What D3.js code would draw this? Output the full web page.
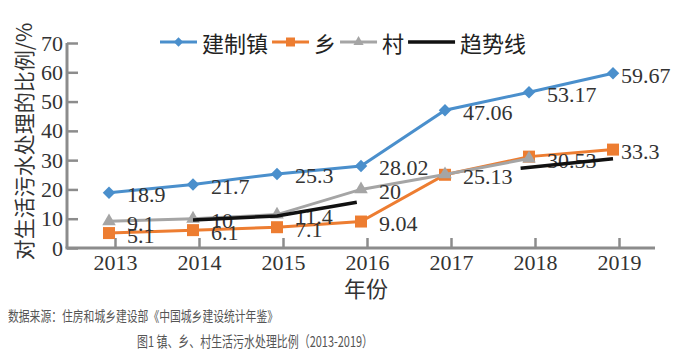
<!DOCTYPE html>
<html>
<head>
<meta charset="utf-8">
<script src="https://cdn.jsdelivr.net/npm/d3@7.9.0/dist/d3.min.js"></script>
<style>
  body { margin: 0; background: #fff; }
  svg { display: block; }
</style>
</head>
<body>
<div id="chart"></div>
<script>
const years = [2013, 2014, 2015, 2016, 2017, 2018, 2019];
const zhenValues = [18.9, 21.7, 25.3, 28.02, 47.06, 53.17, 59.67];
const xiangValues = [5.1, 6.1, 7.1, 9.04, 25.0, 31.2, 33.6];
const cunValues = [9.1, 10, 11.4, 20, 25.13, 30.53, null];
const zhenLabels = ['18.9', '21.7', '25.3', '28.02', '47.06', '53.17', '59.67'];
const xiangLabels = ['5.1', '6.1', '7.1', '9.04', null, null, '33.3'];
const cunLabels = ['9.1', '10', '11.4', '20', '25.13', '30.53', null];
// trend segments: [year, value]
const trendA = [[2014, 9.6], [2015, 10.9], [2015.95, 15.6]];
const trendB = [[2017.9, 27.2], [2019, 30.5]];
const yTicks = [0, 10, 20, 30, 40, 50, 60, 70];

const width = 690;
const height = 361;
const serif = '"Liberation Serif", "Times New Roman", serif';
const cjk = '"Noto Sans CJK SC", "Noto Sans", sans-serif';
const axisColor = '#8c8c8c';

const svg = d3.select('#chart').append('svg')
  .attr('width', width)
  .attr('height', height);

const area = { left: 67, right: 655, top: 43, bottom: 248 };

// markers sit a few px left of their tick
const x = d3.scaleLinear().domain([2013, 2019]).range([109, 613]);
const xTick = d3.scaleLinear().domain([2013, 2019]).range([115, 619]);
const y = d3.scaleLinear().domain([0, 70]).range([area.bottom, area.top]);

// axes
const yAxis = d3.axisLeft(y).tickValues(yTicks).tickSize(-11).tickPadding(4);
const gy = svg.append('g').attr('transform', `translate(${area.left},0)`).call(yAxis);
gy.select('.domain').remove();
gy.selectAll('line').attr('stroke', axisColor).attr('stroke-width', 2.5);
gy.selectAll('text').attr('font-family', serif).attr('font-size', 22).attr('fill', '#333');

const xAxis = d3.axisBottom(xTick).tickValues(years).tickFormat(d3.format('d')).tickSize(-10).tickPadding(6);
const gx = svg.append('g').attr('transform', `translate(0,${area.bottom})`).call(xAxis);
gx.select('.domain').remove();
gx.selectAll('line').attr('stroke', axisColor).attr('stroke-width', 2.5);
gx.selectAll('text').attr('font-family', serif).attr('font-size', 22).attr('fill', '#333');

svg.append('line')
  .attr('x1', area.left).attr('x2', area.left)
  .attr('y1', area.top).attr('y2', area.bottom)
  .attr('stroke', axisColor).attr('stroke-width', 3);
svg.append('line')
  .attr('x1', area.left - 1.5).attr('x2', area.right)
  .attr('y1', area.bottom).attr('y2', area.bottom)
  .attr('stroke', axisColor).attr('stroke-width', 3);

// axis titles
svg.append('text')
  .attr('transform', `translate(23,${(20 + 263) / 2}) rotate(-90)`)
  .attr('text-anchor', 'middle')
  .attr('dominant-baseline', 'central')
  .attr('font-family', cjk)
  .attr('font-size', 21)
  .attr('fill', '#333')
  .text('对生活污水处理的比例/%');

svg.append('text')
  .attr('x', 366).attr('y', 287)
  .attr('text-anchor', 'middle')
  .attr('dominant-baseline', 'central')
  .attr('font-family', cjk)
  .attr('font-size', 22)
  .attr('fill', '#333')
  .text('年份');

// series
const series = [
  { name: '建制镇', values: zhenValues, labels: zhenLabels, color: '#4a8fcc', shape: 'diamond' },
  { name: '乡', values: xiangValues, labels: xiangLabels, color: '#ed7d31', shape: 'square' },
  { name: '村', values: cunValues, labels: cunLabels, color: '#a5a5a5', shape: 'triangle' },
];

function symbolPath(shape, scale = 1) {
  if (shape === 'diamond') return d3.symbol(d3.symbolSquare, 78 * scale * scale)();
  if (shape === 'square') return d3.symbol(d3.symbolSquare, 144 * scale * scale)();
  return d3.symbol(d3.symbolTriangle, 80 * scale * scale)();
}

const line = d3.line()
  .defined((d) => d.v != null)
  .x((d) => x(d.year))
  .y((d) => y(d.v));

const lineGroup = svg.append('g');
const labelGroup = svg.append('g');

series.forEach((s) => {
  const pts = years.map((year, i) => ({ year, v: s.values[i], label: s.labels[i], i }));
  const g = lineGroup.append('g');
  g.append('path')
    .datum(pts)
    .attr('d', line)
    .attr('fill', 'none')
    .attr('stroke', s.color)
    .attr('stroke-width', 3);
  g.selectAll('path.marker')
    .data(pts.filter((d) => d.v != null))
    .join('path')
    .attr('class', 'marker')
    .attr('d', symbolPath(s.shape))
    .attr('transform', (d) => `translate(${x(d.year)},${y(d.v)})${s.shape === 'diamond' ? ' rotate(45)' : ''}`)
    .attr('fill', s.color);

  labelGroup.selectAll(null)
    .data(pts.filter((d) => d.label != null))
    .join('text')
    .attr('x', (d) => x(d.year) + (d.i === years.length - 1 ? 8 : 18))
    .attr('y', (d) => y(d.v) + 9.5)
    .attr('font-family', serif)
    .attr('font-size', 22)
    .attr('fill', '#333')
    .text((d) => d.label);
});

// trend lines
const trendLine = d3.line().x((d) => x(d[0])).y((d) => y(d[1]));
[trendA, trendB].forEach((seg) => {
  svg.append('path')
    .attr('d', trendLine(seg))
    .attr('fill', 'none')
    .attr('stroke', '#111')
    .attr('stroke-width', 3.5);
});

// legend
const legendItems = [
  ...series.map((s) => ({ name: s.name, color: s.color, shape: s.shape, len: 37 })),
  { name: '趋势线', color: '#111', shape: null, len: 47 },
];
const legend = svg.append('g');
let lx = 160;
const ly = 42;
legendItems.forEach((item) => {
  legend.append('line')
    .attr('x1', lx).attr('x2', lx + item.len)
    .attr('y1', ly).attr('y2', ly)
    .attr('stroke', item.color)
    .attr('stroke-width', item.shape ? 3 : 3.5);
  if (item.shape) {
    legend.append('path')
      .attr('d', symbolPath(item.shape, 0.75))
      .attr('transform', `translate(${lx + item.len / 2},${ly})${item.shape === 'diamond' ? ' rotate(45)' : ''}`)
      .attr('fill', item.color);
  }
  const t = legend.append('text')
    .attr('x', lx + item.len + 5)
    .attr('y', ly)
    .attr('dominant-baseline', 'central')
    .attr('font-family', cjk)
    .attr('font-size', 22)
    .attr('fill', '#222')
    .text(item.name);
  lx = lx + item.len + 5 + t.node().getComputedTextLength() + 4;
});

// source and caption
svg.append('text')
  .attr('x', 8).attr('y', 315)
  .attr('dominant-baseline', 'central')
  .attr('font-family', cjk)
  .attr('font-size', 14)
  .attr('fill', '#555')
  .attr('textLength', 270)
  .attr('lengthAdjust', 'spacingAndGlyphs')
  .text('数据来源：住房和城乡建设部《中国城乡建设统计年鉴》');

svg.append('text')
  .attr('x', 137).attr('y', 340)
  .attr('dominant-baseline', 'central')
  .attr('font-family', cjk)
  .attr('font-size', 15)
  .attr('fill', '#555')
  .attr('textLength', 236)
  .attr('lengthAdjust', 'spacingAndGlyphs')
  .text('图1 镇、乡、村生活污水处理比例（2013-2019）');
</script>
</body>
</html>
